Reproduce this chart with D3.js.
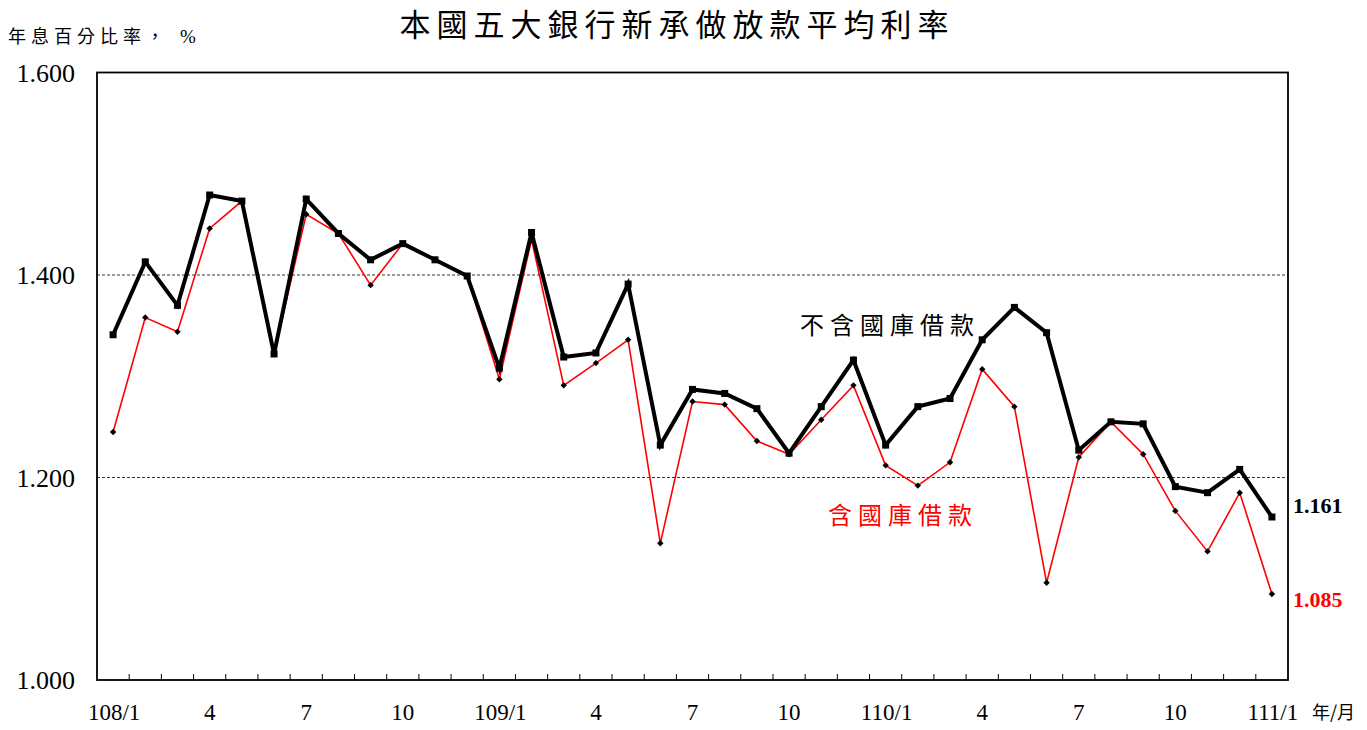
<!DOCTYPE html>
<html><head><meta charset="utf-8">
<script src="https://cdn.jsdelivr.net/npm/d3@7"></script>
<style>body{margin:0;background:#fff;}svg{display:block;}</style>
</head><body>
<svg id="c" width="1367" height="730"></svg>
<script>
const months = ["108/1","2","3","4","5","6","7","8","9","10","11","12",
"109/1","2","3","4","5","6","7","8","9","10","11","12",
"110/1","2","3","4","5","6","7","8","9","10","11","12","111/1"];
const excl = [1.341,1.413,1.370,1.479,1.473,1.322,1.475,1.441,1.415,1.431,1.415,1.399,
1.308,1.442,1.319,1.323,1.391,1.232,1.287,1.283,1.268,1.224,1.270,1.316,
1.232,1.270,1.278,1.336,1.368,1.343,1.227,1.255,1.253,1.191,1.185,1.208,1.161];
const incl = [1.245,1.358,1.344,1.446,1.473,1.322,1.460,1.441,1.390,1.431,1.415,1.399,
1.297,1.435,1.291,1.313,1.336,1.135,1.275,1.272,1.236,1.223,1.257,1.291,
1.212,1.192,1.215,1.307,1.270,1.096,1.220,1.255,1.223,1.167,1.127,1.185,1.085];
const yTicks = [1.0,1.2,1.4,1.6];
const gridVals = [1.2,1.4];

const svg = d3.select("#c");
const L=97,R=1288,T=72.5,B=680;
const x = d3.scaleBand().domain(d3.range(months.length)).range([L,R]);
const y = d3.scaleLinear().domain([1.0,1.6]).range([B,T]);
const cx = i => x(i)+x.bandwidth()/2;
const serif = "'Liberation Serif','Times New Roman',serif";
const cjk = "'Noto Sans CJK TC','Noto Sans CJK SC',sans-serif";

// gridlines
svg.selectAll(".g").data(gridVals).enter().append("line")
 .attr("x1",L).attr("x2",R).attr("y1",d=>y(d)).attr("y2",d=>y(d))
 .attr("stroke","#000").attr("stroke-width",0.8).attr("stroke-dasharray","3,2");

// bottom ticks (inward) at band boundaries
svg.selectAll(".t").data(d3.range(1,months.length)).enter().append("line")
 .attr("x1",i=>x(i)).attr("x2",i=>x(i)).attr("y1",B).attr("y2",B-6)
 .attr("stroke","#000").attr("stroke-width",1);

// frame
svg.append("rect").attr("x",L).attr("y",T).attr("width",R-L).attr("height",B-T)
 .attr("fill","none").attr("stroke","#000").attr("stroke-width",1.8);

// y labels
svg.selectAll(".yl").data(yTicks).enter().append("text")
 .attr("x",75).attr("y",d=>y(d)+9).attr("text-anchor","end")
 .attr("font-family",serif).attr("font-size",26).text(d=>d3.format(".3f")(d));

// x labels
months.forEach((m,i)=>{
  if(i%3===0){
    svg.append("text").attr("x",cx(i)+(m.includes("/")?1:0)).attr("y",720)
     .attr("text-anchor","middle").attr("font-family",serif).attr("font-size",23)
     .text(m);
  }
});

// lines
const line = arr => d3.line().x((d,i)=>cx(i)).y(d=>y(d))(arr);
svg.append("path").attr("d",line(incl)).attr("fill","none").attr("stroke","#ff0000").attr("stroke-width",1.6);
svg.append("path").attr("d",line(excl)).attr("fill","none").attr("stroke","#000").attr("stroke-width",4).attr("stroke-linejoin","miter");
svg.selectAll(".sq").data(excl).enter().append("rect")
 .attr("x",(d,i)=>cx(i)-3.5).attr("y",d=>y(d)-3.5).attr("width",7).attr("height",7).attr("fill","#000");
svg.selectAll(".dm").data(incl).enter().append("path")
 .attr("d",(d,i)=>`M${cx(i)},${y(d)-3.2}L${cx(i)+3.2},${y(d)}L${cx(i)},${y(d)+3.2}L${cx(i)-3.2},${y(d)}Z`)
 .attr("fill","#000");

// texts
svg.append("text").attr("x",677).attr("y",36).attr("text-anchor","middle")
 .attr("font-family",cjk).attr("font-size",31).attr("letter-spacing",6).text("本國五大銀行新承做放款平均利率");
svg.append("text").attr("x",8).attr("y",43).attr("font-family",cjk).attr("font-size",18)
 .attr("letter-spacing",5).text("年息百分比率，");
svg.append("text").attr("x",180).attr("y",43).attr("font-family",serif).attr("font-size",19).text("%");
svg.append("text").attr("x",1312).attr("y",719).attr("font-family",cjk).attr("font-size",18).text("年/月");
svg.append("text").attr("x",800).attr("y",334).attr("font-family",cjk).attr("font-size",24)
 .attr("letter-spacing",6).attr("fill","#000").text("不含國庫借款");
svg.append("text").attr("x",828).attr("y",524).attr("font-family",cjk).attr("font-size",24)
 .attr("letter-spacing",6).attr("fill","#ff0000").text("含國庫借款");
svg.append("text").attr("x",1293).attr("y",y(excl[excl.length-1])-4).attr("font-family",serif).attr("font-size",22)
 .attr("font-weight","bold").text(d3.format(".3f")(excl[excl.length-1]));
svg.append("text").attr("x",1293).attr("y",y(incl[incl.length-1])+13).attr("font-family",serif).attr("font-size",22)
 .attr("font-weight","bold").attr("fill","#ff0000").text(d3.format(".3f")(incl[incl.length-1]));
</script>
</body></html>
